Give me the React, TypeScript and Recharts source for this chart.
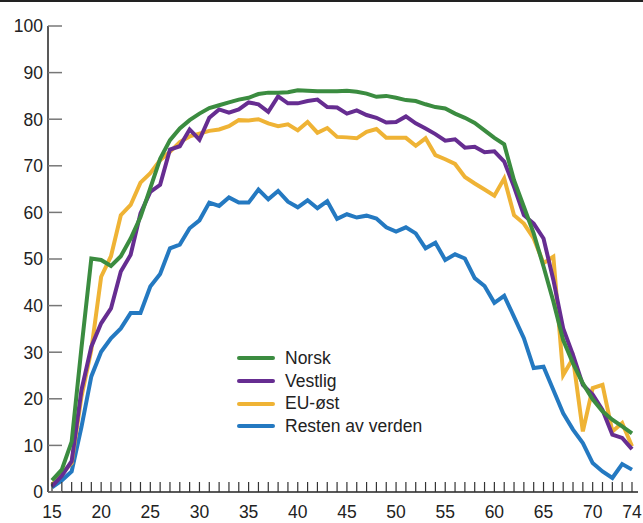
import React from 'react';
import { LineChart, Line, XAxis, YAxis } from 'recharts';

const ages = Array.from({ length: 60 }, (_, i) => 15 + i);

const norsk = [
  2.5, 4.8, 10.8, 31, 50.1, 49.8, 48.5, 50.6, 54.4, 59, 65.2, 71.5, 75.5, 78, 79.8,
  81.2, 82.4, 83, 83.6, 84.2, 84.6, 85.4, 85.7, 85.7, 85.8, 86.2, 86.1, 86, 86, 86,
  86.1, 85.9, 85.5, 84.8, 85, 84.6, 84.1, 83.9, 83.2, 82.6, 82.3, 81.2, 80.3, 79.2, 77.6,
  76, 74.6, 66.9, 61.2, 55.5, 48.4, 40.9, 32.6, 27.6, 23.3, 19.9, 17.3, 15.5, 14.1, 12.6,
];

const vestlig = [
  1.2, 3.5, 6.6, 21.9, 31.2, 36.2, 39.4, 47.3, 50.9, 59.8, 64.4, 65.9, 73.5, 74.2, 77.8,
  75.6, 80.3, 82.1, 81.4, 82.1, 83.6, 83.2, 81.6, 84.9, 83.4, 83.4, 83.9, 84.2, 82.6, 82.5,
  81.2, 81.9, 80.9, 80.3, 79.3, 79.4, 80.6, 79.1, 78, 76.8, 75.4, 75.7, 73.9, 74.1, 72.9,
  73.1, 70.9, 65.5, 59.4, 57.6, 54.4, 45.5, 35.1, 29.4, 23, 20.9, 17.6, 12.3, 11.6, 9.2,
];

const euOst = [
  1.5, 4, 6.2, 20.5, 30.5, 46.2, 50.6, 59.4, 61.6, 66.4, 68.4, 71.2, 73, 75.1, 76.3,
  76.9, 77.5, 77.8, 78.5, 79.8, 79.7, 80, 79.1, 78.5, 78.9, 77.6, 79.4, 77.1, 78.1, 76.2,
  76.1, 75.9, 77.3, 77.9, 76, 76, 76, 74.3, 75.9, 72.3, 71.4, 70.4, 67.6, 66.2, 64.9,
  63.6, 67.3, 59.4, 57.6, 54.4, 49.1, 50.5, 25.1, 28.7, 13, 22.3, 23, 13, 14.8, 9.8,
];

const resten = [
  1, 2.5, 4.4, 14, 24.8, 30.1, 33, 35.1, 38.4, 38.4, 44.1, 46.8, 52.3, 53.1, 56.6,
  58.3, 62.1, 61.4, 63.2, 62.1, 62.1, 64.9, 62.8, 64.6, 62.3, 61.1, 62.6, 60.9, 62.4, 58.6,
  59.6, 58.9, 59.3, 58.7, 56.8, 55.9, 56.8, 55.5, 52.3, 53.5, 49.8, 51, 50.1, 45.9, 44.2,
  40.6, 42.1, 37.6, 33, 26.6, 26.9, 21.9, 16.9, 13.4, 10.5, 6.2, 4.4, 3, 6, 4.8,
];

const yTicks = [0, 10, 20, 30, 40, 50, 60, 70, 80, 90, 100];

const series = [
  { key: 'norsk', name: 'Norsk', color: '#3b8c40' },
  { key: 'vestlig', name: 'Vestlig', color: '#662d91' },
  { key: 'euOst', name: 'EU-øst', color: '#efb335' },
  { key: 'resten', name: 'Resten av verden', color: '#2479c1' },
];

const data = ages.map((age, i) => ({
  age,
  norsk: norsk[i],
  vestlig: vestlig[i],
  euOst: euOst[i],
  resten: resten[i],
}));

const font = '"Liberation Sans", Arial, sans-serif';

const XTick = (props: any) => {
  const { x, y, payload } = props;
  const v = payload.value;
  const showLabel = v % 5 === 0 || v === 74;
  return (
    <g>
      <line x1={x} x2={x} y1={y} y2={y - 10} stroke="#333" strokeWidth={1.2} />
      {showLabel && (
        <text x={x} y={y + 26} textAnchor="middle" fontSize={17.5} fill="#222" fontFamily={font}>
          {v}
        </text>
      )}
    </g>
  );
};

const YTick = (props: any) => {
  const { x, y, payload } = props;
  return (
    <g>
      <line x1={x + 5} x2={x + 19} y1={y} y2={y} stroke="#777" strokeWidth={1.5} />
      <text x={x} y={y} dy="0.36em" textAnchor="end" fontSize={17.5} fill="#222" fontFamily={font}>
        {payload.value}
      </text>
    </g>
  );
};

const LegendBox = () => (
  <div style={{ position: 'absolute', left: 237, top: 347, fontFamily: font, fontSize: 17.5, color: '#222' }}>
    {series.map((s) => (
      <div key={s.key} style={{ display: 'flex', alignItems: 'center', height: 22.7 }}>
        <div style={{ width: 38, height: 4, background: s.color, borderRadius: 2, marginRight: 10 }} />
        <span>{s.name}</span>
      </div>
    ))}
  </div>
);

export default function App() {
  const drawOrder = [series[3], series[2], series[1], series[0]];
  return (
    <div style={{ position: 'absolute', left: 0, top: 0, width: 643, height: 523, background: '#fff' }}>
      <div style={{ position: 'absolute', left: 0, top: 0, width: 643, height: 2, background: '#222' }} />
      <LineChart width={643} height={523} data={data} margin={{ top: 26, right: 5, bottom: 0, left: 0 }}>
        <XAxis
          dataKey="age"
          type="number"
          domain={[15, 74]}
          ticks={ages}
          interval={0}
          padding={{ left: 4, right: 6 }}
          height={31}
          tickLine={false}
          tickSize={0}
          tickMargin={0}
          axisLine={{ stroke: '#222', strokeWidth: 1.5 }}
          tick={<XTick />}
        />
        <YAxis
          type="number"
          domain={[0, 100]}
          ticks={yTicks}
          interval={0}
          width={48}
          tickLine={false}
          tickSize={0}
          tickMargin={5}
          axisLine={{ stroke: '#222', strokeWidth: 1.5 }}
          tick={<YTick />}
        />
        {drawOrder.map((s) => (
          <Line
            key={s.key}
            type="linear"
            dataKey={s.key}
            name={s.name}
            stroke={s.color}
            strokeWidth={4}
            dot={false}
            activeDot={false}
            isAnimationActive={false}
          />
        ))}
      </LineChart>
      <LegendBox />
    </div>
  );
}
